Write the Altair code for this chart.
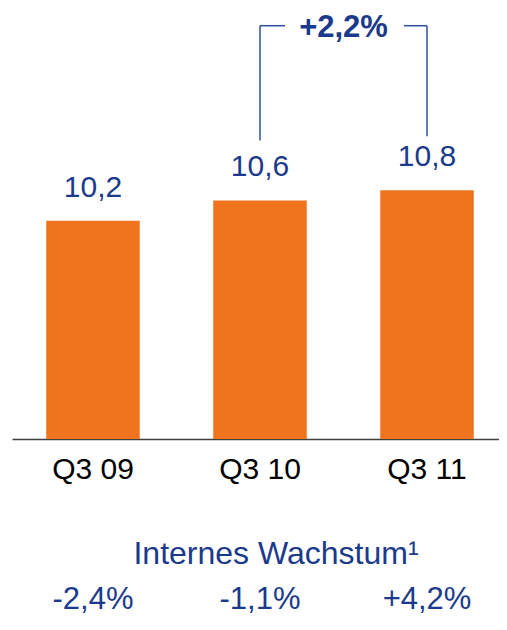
import altair as alt
import pandas as pd

categories = ["Q3 09", "Q3 10", "Q3 11"]
values = [10.2, 10.6, 10.8]
value_labels = ["10,2", "10,6", "10,8"]
growth_labels = ["-2,4%", "-1,1%", "+4,2%"]
growth_title = "Internes Wachstum¹"
change_label = "+2,2%"
bracket_from = "Q3 10"
bracket_to = "Q3 11"
y_floor = 5.9

df = pd.DataFrame({"cat": categories, "value": values,
                   "label": value_labels, "growth": growth_labels})
df_title = pd.DataFrame({"cat": [bracket_from], "t": [growth_title]})
df_change = pd.DataFrame({"cat": [bracket_from], "t": [change_label]})

BLUE = "#1B3A8C"
LINE_BLUE = "#2E4EA3"
ORANGE = "#F0731E"
FONT = "Liberation Sans"
W, H = 496, 431

x = alt.X("cat:N", sort=categories,
          scale=alt.Scale(paddingInner=0.44, paddingOuter=0.205),
          axis=alt.Axis(title=None, labelFontSize=30, labelColor="#000000",
                        labelFont=FONT, labelAngle=0, ticks=False, tickSize=0,
                        labelPadding=15, domainColor="#404040", domainWidth=1.3))
y = alt.Y("value:Q", scale=alt.Scale(domain=[y_floor, 14.39], nice=False, zero=False),
          axis=None)

base = alt.Chart(df)
bars = base.mark_bar(color=ORANGE).encode(x=x, y=y, y2=alt.datum(y_floor))
labels = base.mark_text(font=FONT, fontSize=30, color=BLUE, baseline="alphabetic",
                        dy=-24).encode(x=x, y=y, text="label:N")
growth = base.mark_text(font=FONT, fontSize=31, color=BLUE,
                        baseline="alphabetic").encode(x=x, y=alt.value(601),
                                                      text="growth:N")
title = alt.Chart(df_title).mark_text(font=FONT, fontSize=32, color=BLUE,
                                      baseline="alphabetic", dx=16).encode(
    x=x, y=alt.value(556), text="t:N")
change = alt.Chart(df_change).mark_text(font=FONT, fontSize=31, fontWeight="bold",
                                        color=BLUE, baseline="alphabetic",
                                        dx=83.5).encode(x=x, y=alt.value(28.5),
                                                        text="t:N")

left_v = base.transform_filter(alt.datum.cat == bracket_from).mark_rule(
    color=LINE_BLUE, strokeWidth=1.5, yOffset=-60).encode(
    x=x, y=y, y2=alt.value(17.7))
right_v = base.transform_filter(alt.datum.cat == bracket_to).mark_rule(
    color=LINE_BLUE, strokeWidth=1.5, yOffset=-54).encode(
    x=x, y=y, y2=alt.value(17.7))
left_h = base.transform_filter(alt.datum.cat == bracket_from).mark_rule(
    color=LINE_BLUE, strokeWidth=1.5, x2Offset=25).encode(
    x=x, x2=alt.X2("cat:N"), y=alt.value(17.7))
right_h = base.transform_filter(alt.datum.cat == bracket_to).mark_rule(
    color=LINE_BLUE, strokeWidth=1.5, xOffset=-23).encode(
    x=x, x2=alt.X2("cat:N"), y=alt.value(17.7))

chart = alt.layer(bars, labels, growth, title, change,
                  left_v, right_v, left_h, right_h).properties(
    width=W, height=H,
    autosize=alt.AutoSizeParams(type="none"),
    padding={"left": 4, "top": 0, "right": -9, "bottom": 179},
).configure_view(stroke=None)

chart.save("out.html", embed_options={"renderer": "svg", "actions": False})
